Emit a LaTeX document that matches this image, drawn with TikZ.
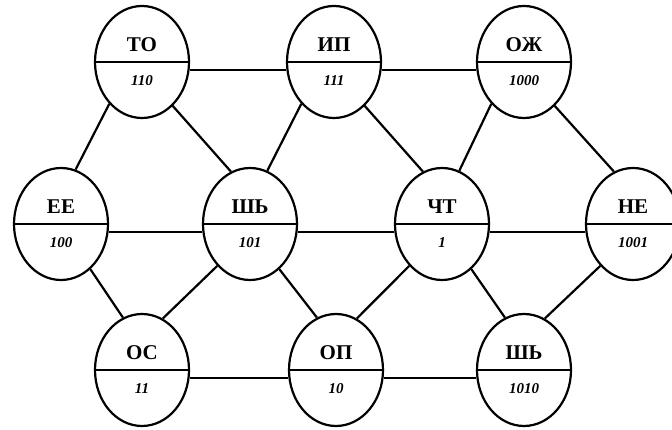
\documentclass[tikz,border=0pt]{standalone}
\usepackage{fontspec}
\setmainfont{Liberation Serif}
\usetikzlibrary{shapes.geometric}
\begin{document}
\begin{tikzpicture}[x=1pt,y=1pt,
  oval/.style={draw,ellipse,line width=2.2pt,minimum width=94pt,minimum height=112pt,inner sep=0pt},
  link/.style={line width=2.2pt},
  divider/.style={line width=2.2pt},
  toptext/.style={font=\fontsize{21}{21}\selectfont\bfseries,inner sep=0pt},
  bottext/.style={font=\fontsize{15}{15}\selectfont\bfseries\itshape,inner sep=0pt}]
\useasboundingbox (0,0) rectangle (672,-430);
\foreach \n/\x/\y/\t/\v in {
  to/142/62/ТО/110, ip/334/62/ИП/111, oz/524/62/ОЖ/1000,
  ee/61/224/ЕЕ/100, sh/250/224/ШЬ/101, ch/442/224/ЧТ/1, ne/633/224/НЕ/1001,
  os/142/370/ОС/11, op/336/370/ОП/10, sb/524/370/ШЬ/1010}{
  \node[oval] (\n) at (\x,-\y) {};
  \draw[divider] (\n.west) -- (\n.east);
  \node[toptext] (\n t) at ([yshift=17pt]\n.center) {\t};
  \node[bottext] (\n v) at ([yshift=-19pt]\n.center) {\v};
}
% horizontal connectors
\draw[link] (to.-10) -- (ip.190);
\draw[link] (ip.-10) -- (oz.190);
\draw[link] (ee.-10) -- (sh.190);
\draw[link] (sh.-10) -- (ch.190);
\draw[link] (ch.-10) -- (ne.190);
\draw[link] (os.-10) -- (op.190);
\draw[link] (op.-10) -- (sb.190);
% diagonal connectors (down-left: upper.-128 to lower.72; down-right: upper.-55 to lower.110)
\draw[link] (to.-128) -- (ee.75);
\draw[link] (to.-55) -- (sh.110);
\draw[link] (ip.-128) -- (sh.72);
\draw[link] (ip.-55) -- (ch.110);
\draw[link] (oz.-128) -- (ch.72);
\draw[link] (oz.-55) -- (ne.110);
\draw[link] (ee.-57) -- (os.110);
\draw[link] (sh.-128) -- (os.68);
\draw[link] (sh.-57) -- (op.110);
\draw[link] (ch.-128) -- (op.68);
\draw[link] (ch.-57) -- (sb.110);
\draw[link] (ne.-128) -- (sb.68);
\end{tikzpicture}
\end{document}
